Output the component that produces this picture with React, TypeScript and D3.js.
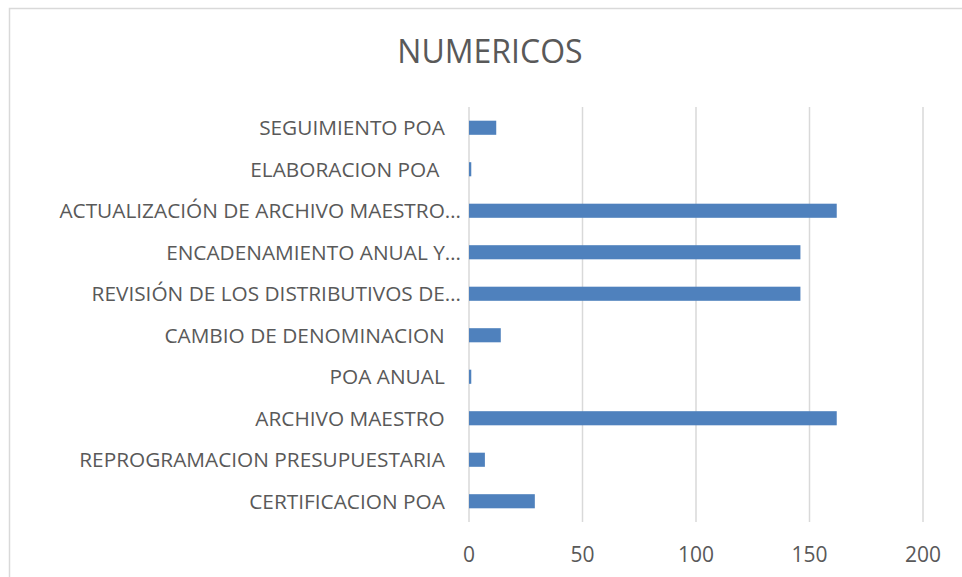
import React from "react";
import * as d3 from "d3";

const title = "NUMERICOS";
const categories = [
  "SEGUIMIENTO POA   ",
  "ELABORACION POA    ",
  "ACTUALIZACIÓN DE ARCHIVO MAESTRO…",
  "ENCADENAMIENTO ANUAL Y…",
  "REVISIÓN DE LOS DISTRIBUTIVOS DE…",
  "CAMBIO DE DENOMINACION   ",
  "POA ANUAL   ",
  "ARCHIVO MAESTRO   ",
  "REPROGRAMACION PRESUPUESTARIA   ",
  "CERTIFICACION POA   ",
];
const values = [12, 1, 162, 146, 146, 14, 1, 162, 7, 29];
const xTicks = [0, 50, 100, 150, 200];

const W = 962;
const H = 577;
const FONT = "'Open Sans', sans-serif";
const TEXT = "#595959";
const GRID = "#d9d9d9";
const BAR = "#4f81bd";

export default function App() {
  const x = d3.scaleLinear().domain([0, 200]).range([469, 923]);
  const y = d3
    .scaleBand<string>()
    .domain(categories)
    .range([107, 522])
    .paddingInner(0.66)
    .paddingOuter(0.33);

  return (
    <svg
      width={W}
      height={H}
      style={{ position: "absolute", left: 0, top: 0, background: "#fff" }}
    >
      <rect x={0} y={0} width={W} height={H} fill="#fff" />
      <rect
        x={9.5}
        y={8.5}
        width={1200}
        height={1200}
        fill="none"
        stroke={GRID}
        strokeWidth={1.5}
      />
      <text
        x={490}
        y={63}
        textAnchor="middle"
        fontFamily={FONT}
        fontSize={32}
        fill={TEXT}
      >
        {title}
      </text>
      {xTicks.map((t) => (
        <g key={t}>
          <line
            x1={x(t)}
            x2={x(t)}
            y1={107}
            y2={522}
            stroke={GRID}
            strokeWidth={1.5}
          />
          <text
            x={x(t)}
            y={562}
            textAnchor="middle"
            fontFamily={FONT}
            fontSize={21}
            fill={TEXT}
          >
            {t}
          </text>
        </g>
      ))}
      {categories.map((c, i) => (
        <g key={c}>
          <rect
            x={x(0)}
            y={y(c)!}
            width={x(values[i]) - x(0)}
            height={y.bandwidth()}
            fill={BAR}
          />
          <text
            x={461}
            y={y(c)! + y.bandwidth() / 2}
            dy="0.36em"
            textAnchor="end"
            fontFamily={FONT}
            fontSize={20.8}
            fill={TEXT}
            style={{ whiteSpace: "pre" }}
          >
            {c}
          </text>
        </g>
      ))}
    </svg>
  );
}
